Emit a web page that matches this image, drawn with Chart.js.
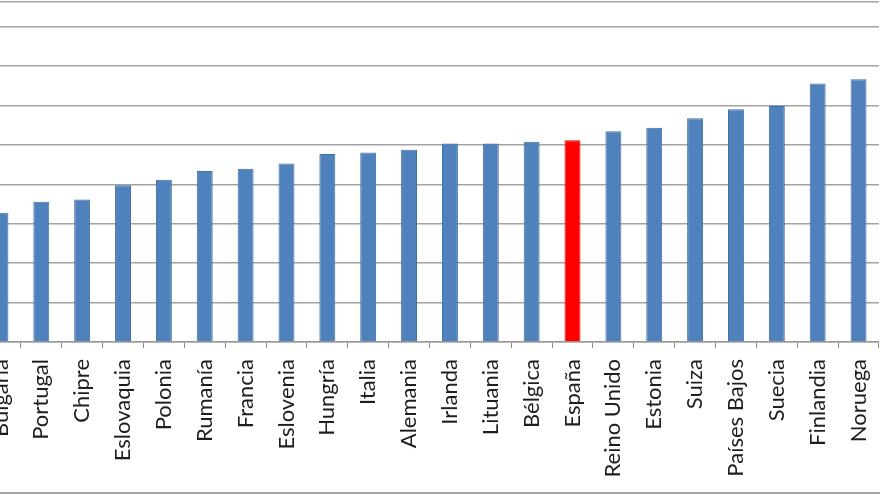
<!DOCTYPE html>
<html>
<head>
<meta charset="utf-8">
<script src="https://cdn.jsdelivr.net/npm/chart.js@4/dist/chart.umd.min.js"></script>
<style>
  html, body { margin: 0; padding: 0; background: #fff; }
  #frame { position: relative; width: 880px; height: 495px; overflow: hidden; }
  #wrap { position: absolute; left: -20px; top: 0; width: 916px; height: 492px; }
  #bottomLine { position: absolute; left: 0; top: 492px; width: 880px; height: 2px; background: #a3a3a3; }
</style>
</head>
<body>
<div id="frame">
  <div id="wrap"><canvas id="myChart"></canvas></div>
  <div id="bottomLine"></div>
</div>
<script>
"use strict";

// Countries, in the order of the bars
let countries = ["Bulgaria", "Portugal", "Chipre", "Eslovaquia", "Polonia", "Rumanía",
  "Francia", "Eslovenia", "Hungría", "Italia", "Alemania", "Irlanda", "Lituania",
  "Bélgica", "España", "Reino Unido", "Estonia", "Suiza", "Países Bajos", "Suecia",
  "Finlandia", "Noruega"];

// Values (gridline step = 10)
let values = [32.8, 35.6, 36.2, 39.8, 41.2, 43.4, 44.0, 45.3, 47.7, 48.1, 48.8,
  50.4, 50.4, 50.8, 51.2, 53.5, 54.4, 56.8, 59.1, 59.9, 65.6, 66.7];

// The highlighted country
let highlight = "España";

let fillColours = countries.map(c => c === highlight ? "#ff0000" : "#4f81bd");
let edgeColours = countries.map(c => c === highlight ? "#e00000" : "#41709f");

let ctx = document.getElementById("myChart").getContext("2d");

let data = {
  labels: countries,
  datasets: [{
    data: values,
    backgroundColor: fillColours,
    borderColor: edgeColours,
    borderWidth: 1,
    barPercentage: 0.78,
    categoryPercentage: 0.5
  }]
};

let config = {
  type: "bar",
  data: data,
  options: {
    responsive: true,
    maintainAspectRatio: false,
    animation: false,
    layout: { padding: { top: 2, right: 2, left: 0, bottom: 0 } },
    plugins: {
      legend: { display: false },
      tooltip: { enabled: false }
    },
    scales: {
      x: {
        grid: {
          display: true,
          drawOnChartArea: false,
          drawTicks: true,
          tickLength: 6,
          color: "#8c8c8c",
          lineWidth: 1
        },
        border: { display: true, color: "#9a9a9a", width: 1.5 },
        ticks: {
          minRotation: 90,
          maxRotation: 90,
          autoSkip: false,
          padding: 11,
          color: "#1e1e1e",
          font: { family: "Lato", size: 22 }
        },
        afterFit: function (scale) { scale.height = 150; }
      },
      y: {
        min: 0,
        max: 86.3,
        ticks: { display: false, stepSize: 10 },
        grid: { color: "#a3a3a3", lineWidth: 1.5, drawTicks: false },
        border: { display: false },
        afterFit: function (scale) { scale.width = 0; }
      }
    }
  }
};

let theChart = new Chart(ctx, config);
</script>
</body>
</html>
